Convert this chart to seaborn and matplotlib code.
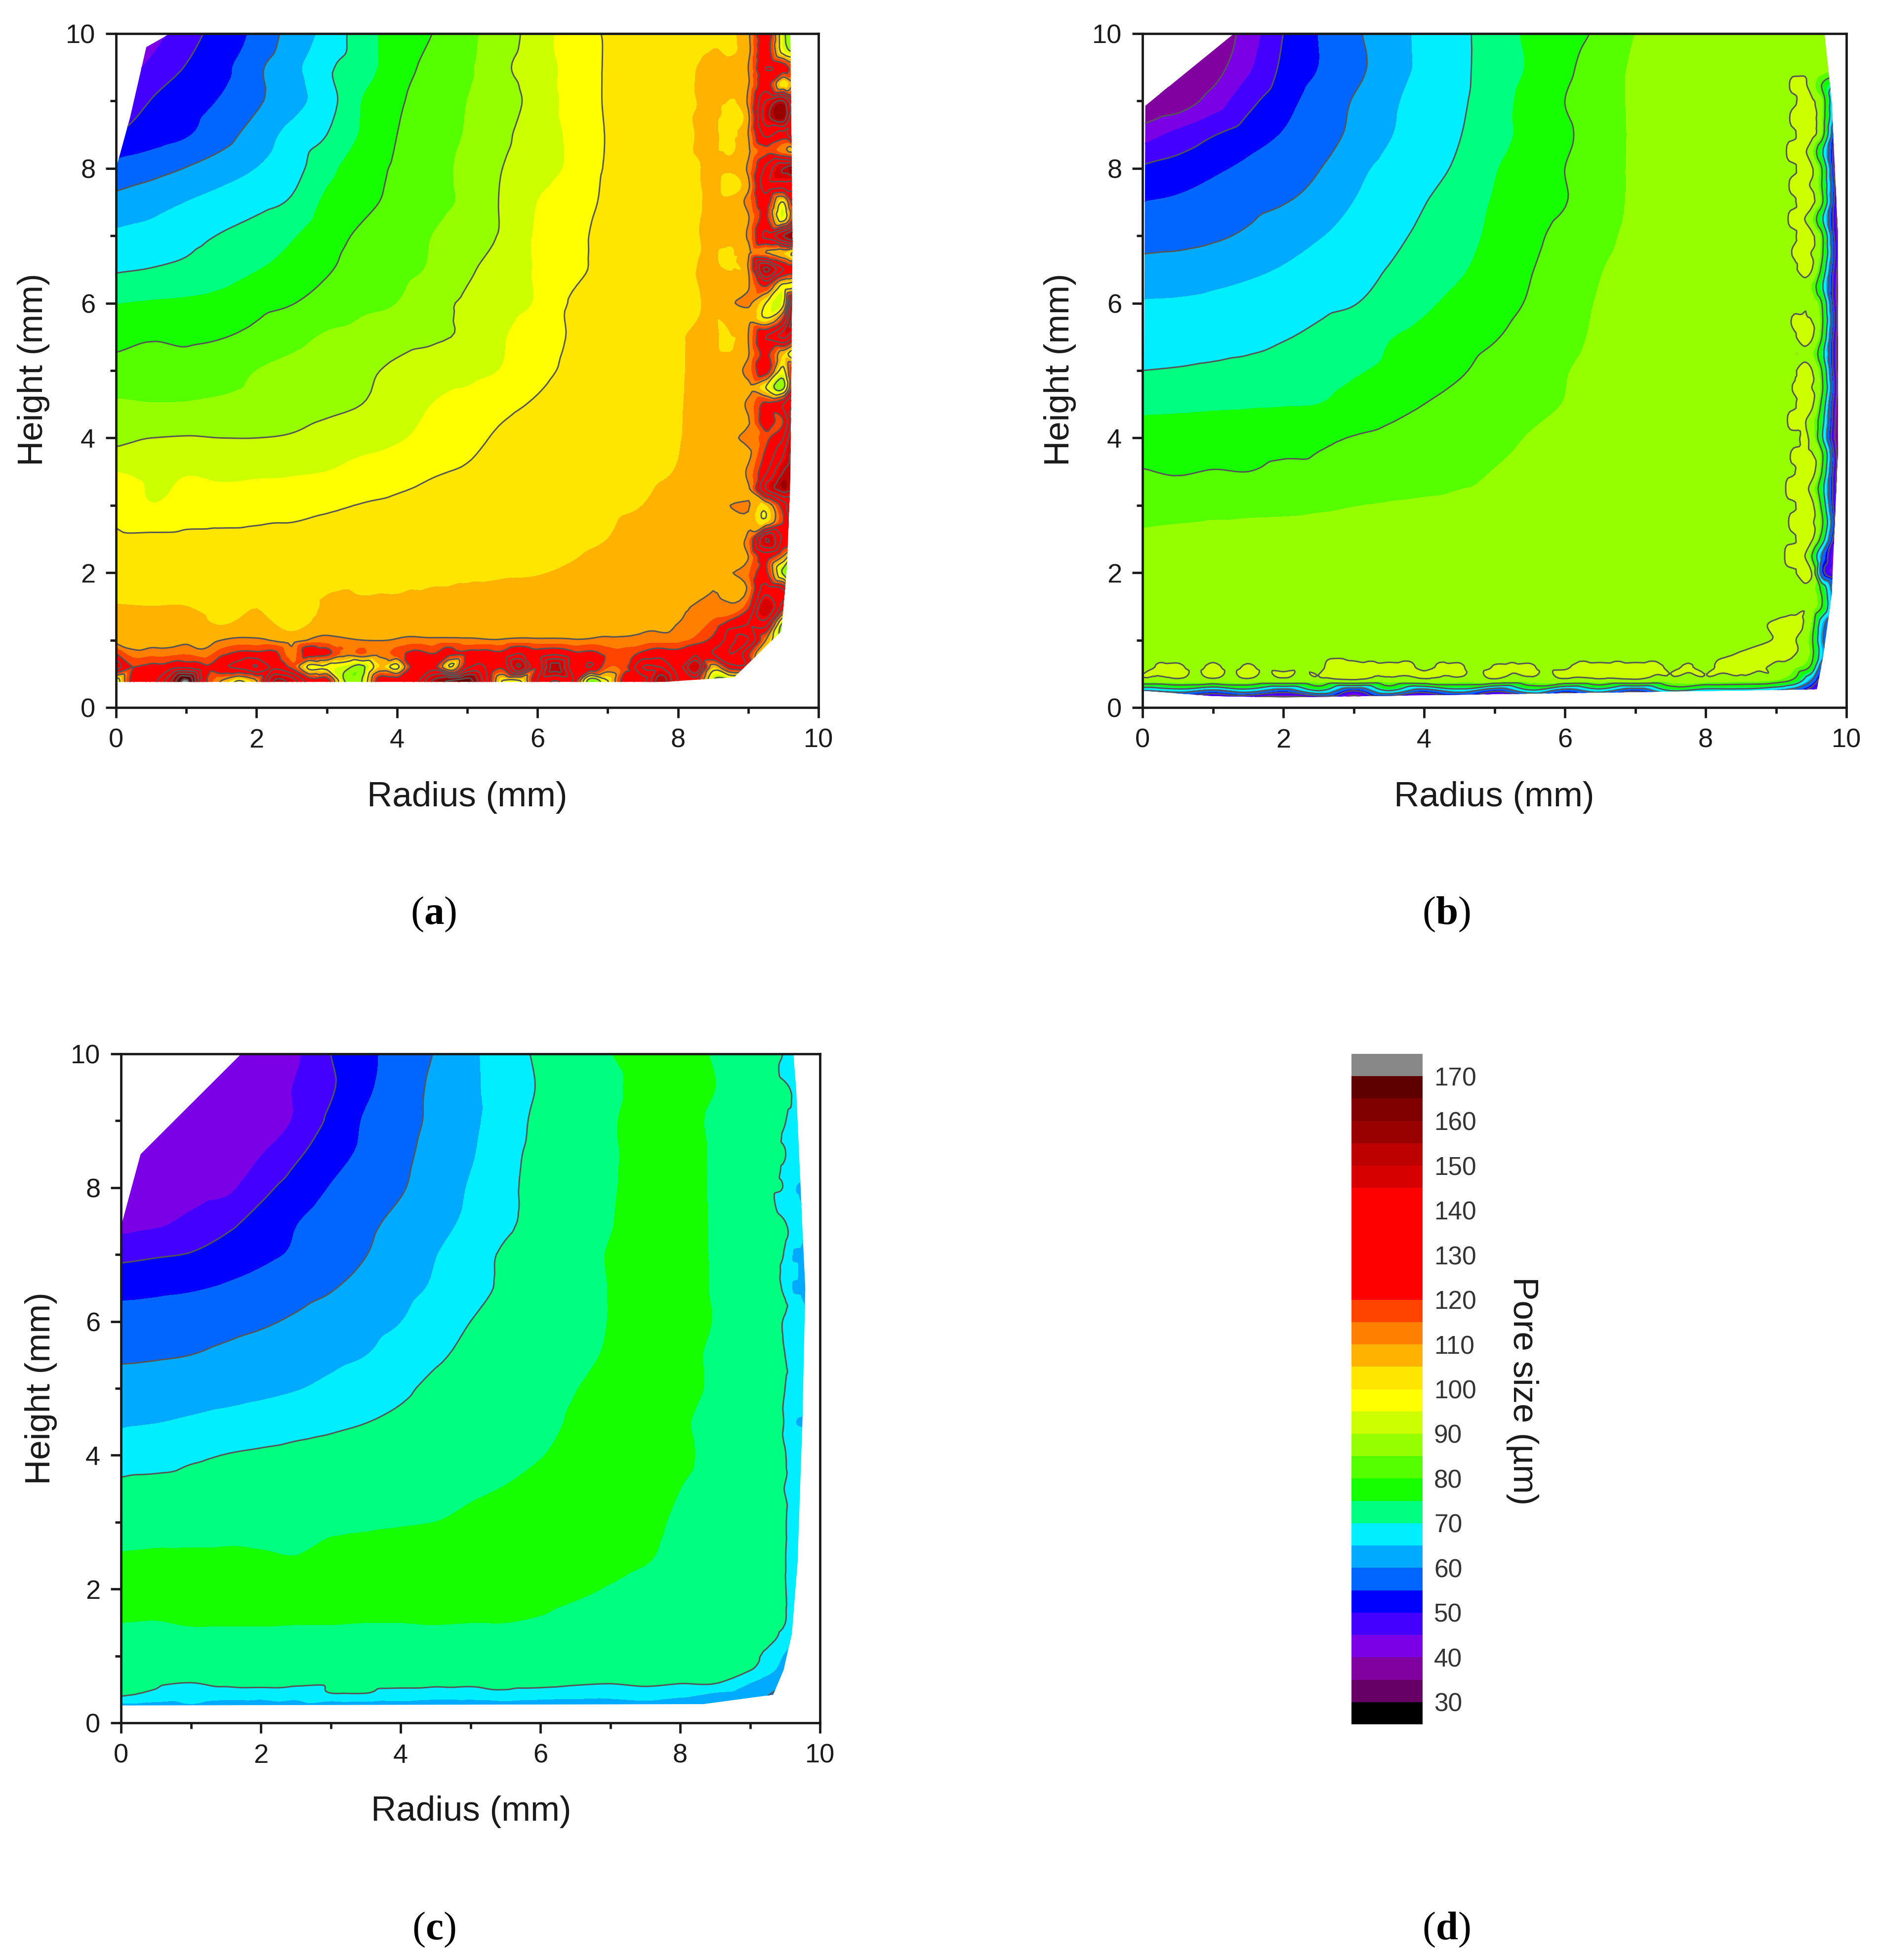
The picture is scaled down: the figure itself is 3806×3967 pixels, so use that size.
import numpy as np
import matplotlib
matplotlib.use("Agg")
import matplotlib.pyplot as plt
from matplotlib.patches import Polygon
from matplotlib.tri import Triangulation, UniformTriRefiner, CubicTriInterpolator
import seaborn as sns

W, H = 3806, 3967

radius = [0, .5, 1, 1.5, 2, 2.5, 3, 3.5, 4, 4.5, 5, 5.5, 6, 6.5, 7, 7.5, 8, 8.5, 9, 9.25, 9.5, 9.65, 9.9]
height = [10, 9.5, 9, 8.5, 8, 7.5, 7, 6.5, 6, 5.5, 5, 4.5, 4, 3.5, 3, 2.5, 2, 1.5, 1.25, 1, .8, .6, .4, .25, .1]

pore_a = [
    [40, 43, 47.5, 52.5, 56, 62, 66.3, 72.7, 77, 80, 83.8, 87.5, 92.5, 97.4, 100.5, 102, 103, 104, 109, 128, 92, 85, 85],
    [42, 46, 50.3, 53.4, 59, 63.3, 69, 72.8, 77.5, 81.7, 84.2, 89, 92.7, 96.5, 100.5, 102, 104, 106, 110, 130, 125, 115, 110],
    [43, 50.2, 52.8, 55.4, 59.2, 63, 67.8, 75, 79.2, 82.2, 85, 87.9, 91.8, 96.7, 100.5, 102, 104, 106, 111, 140, 150, 130, 130],
    [50, 52.5, 54.5, 58, 62.3, 66.5, 70, 75.5, 80, 82.8, 85.4, 89, 92.5, 96, 100.3, 102, 103.8, 105.6, 110, 132, 125, 140, 140],
    [56.6, 58.2, 60.2, 62.5, 65, 68, 73.5, 77.7, 80.7, 83.3, 86.2, 90, 92.8, 96, 100.5, 102.3, 104, 105.7, 111, 132, 150, 158, 158],
    [61.5, 63, 65, 66.8, 68.5, 70.6, 76, 78.7, 81.2, 83.4, 86, 90.5, 95, 98, 100.7, 102.5, 104, 105.7, 112, 125, 100, 125, 125],
    [65.8, 66.7, 68.6, 70.3, 72.2, 74.5, 78, 80.8, 83, 85, 87.8, 90.6, 95.6, 98.8, 101.2, 103, 104, 105.8, 111, 132, 150, 160, 160],
    [69.5, 70.2, 71, 72.5, 74.8, 76.5, 79.5, 82, 83.3, 85.6, 89.2, 92.3, 95.5, 99, 101, 102.5, 104, 105.7, 110, 152, 130, 125, 125],
    [74.8, 75.4, 75.8, 76.7, 78.5, 79.8, 82, 84, 85, 88.5, 90.8, 92.9, 95.5, 100.5, 101.5, 103, 104, 105.7, 111, 100, 98, 150, 150],
    [78.5, 79.6, 79.2, 79.8, 81.3, 83.5, 85.5, 86.5, 88, 89.2, 90.8, 94.5, 98, 100.4, 102, 103.5, 104.6, 105.8, 110, 130, 142, 130, 130],
    [81.7, 81.7, 81.8, 83, 85, 86.2, 87.5, 89, 91, 93, 93.5, 95.3, 98.8, 100.9, 102.5, 103.5, 104.6, 106.8, 112, 125, 98, 125, 125],
    [85.6, 85.2, 85.3, 85.8, 86.5, 87.5, 88.8, 90, 92.5, 95, 96.5, 98.8, 100.5, 102, 103, 103.8, 104.7, 107, 111, 122, 130, 140, 140],
    [88.5, 90, 90.3, 90, 90, 90.5, 92, 93.2, 94.4, 96.5, 98.5, 100.8, 102, 102.8, 103.3, 104, 104.8, 107, 112, 118, 130, 150, 150],
    [94.9, 94, 94.6, 94, 94.2, 94.4, 95, 96.5, 98, 99.5, 100.5, 101.3, 102, 103, 103.6, 104.2, 105.2, 107.5, 111, 128, 150, 155, 155],
    [98.2, 95.2, 96.7, 97, 97.6, 98.4, 99.3, 100.2, 100.9, 101.7, 102.3, 103, 103.4, 104, 104.5, 105, 106.5, 108, 110.5, 104, 125, 145, 145],
    [101, 101, 101.2, 101.3, 101.4, 101.3, 101.6, 102.2, 102.6, 103, 103.3, 103.6, 104, 104.5, 105, 106, 107.2, 108.5, 112, 150, 128, 130, 130],
    [103.2, 103, 103.2, 103.4, 103.5, 103.8, 104, 104.2, 104.4, 104.6, 104.7, 104.8, 104.9, 105.3, 105.9, 106.5, 107, 109, 114, 122, 88, 80, 80],
    [105.2, 105, 105, 103.5, 104.8, 102, 105.5, 105.5, 105.5, 105.7, 105.8, 106, 106.2, 106.5, 106.8, 107.2, 109, 112, 118, 150, 125, 110, 110],
    [107.5, 107, 107, 104.5, 107, 103, 107, 107, 107, 107.3, 107.5, 107.7, 108, 108, 108.5, 109, 110, 116, 130, 135, 88, 85, 85],
    [108, 107.5, 109, 110, 111, 108, 112, 110, 110.5, 111, 111, 110.5, 111, 110.5, 111, 112, 113, 122, 140, 110, 85, 85, 85],
    [120, 113, 114, 118, 122, 112, 122, 115, 117, 120, 122, 122, 124, 122, 118, 122, 123, 130, 122, 95, 85, 85, 85],
    [135, 122, 128, 128, 140, 118, 98, 88, 98, 125, 128, 122, 122, 125, 115, 140, 125, 105, 125, 90, 85, 85, 85],
    [95, 125, 172, 110, 110, 145, 125, 90, 125, 150, 165, 100, 130, 130, 100, 125, 130, 90, 85, 85, 85, 85, 85],
    [95, 125, 172, 110, 110, 145, 125, 90, 125, 150, 165, 100, 130, 130, 100, 125, 130, 90, 85, 85, 85, 85, 85],
    [95, 125, 172, 110, 110, 145, 125, 90, 125, 150, 165, 100, 130, 130, 100, 125, 130, 90, 85, 85, 85, 85, 85],
]

pore_b = [
    [35, 35, 37, 42, 50, 55, 59, 63, 66, 69, 72, 76, 78, 81, 85, 86, 87, 87, 87, 88, 89, 87, 86],
    [35, 35, 38, 44, 51, 55, 58.5, 62.6, 66, 69, 72, 75.5, 79, 82.5, 85.5, 86, 87, 87, 87, 88.5, 89, 88, 85],
    [35, 37, 42, 48.5, 53, 57, 60.3, 64, 66.7, 69.2, 72.7, 76.7, 80, 83, 85.5, 86, 87, 87, 87, 89.5, 91, 85, 50],
    [42.5, 46.3, 49.7, 52.5, 55.3, 58, 61, 64.6, 67.2, 69.8, 73.2, 76.4, 79.2, 82.5, 85.5, 86, 87, 87, 87, 89.5, 92, 84, 38],
    [50.6, 52, 54, 56, 58, 59.8, 63.5, 66.3, 68.3, 70.8, 74.6, 77.4, 80, 83, 85.5, 86, 87, 87, 87, 89.5, 91, 80, 35],
    [55, 55.7, 57, 58.5, 59.8, 61.5, 65, 67.4, 69.8, 72.6, 75.4, 77.6, 79.8, 83.2, 85.5, 86, 87, 87, 87, 89.5, 92, 82, 36],
    [58.2, 58.5, 59.3, 60.7, 62.7, 64.6, 66.7, 68.8, 71, 73.3, 76, 78.8, 81.5, 84, 85.7, 86, 87, 87, 87, 89.5, 91.5, 82, 36],
    [61.6, 62, 63, 64, 65.3, 67, 68.5, 70.2, 72.3, 74.4, 77, 79.7, 82.2, 84.8, 86, 86.5, 87, 87, 87, 89.3, 90.5, 78, 35],
    [65.3, 65.5, 66, 66.7, 67.6, 68.8, 69.8, 71.9, 74.1, 76.3, 78.3, 80.4, 83, 85.3, 86, 86.5, 87, 87, 87, 88, 88, 80, 33],
    [67.6, 68, 68.4, 69, 69.7, 71, 72.8, 74.7, 76.3, 78, 79.7, 81.7, 83.9, 85.5, 86, 86.5, 87, 87, 87, 89.5, 91, 80, 32],
    [70, 70.3, 70.7, 71, 71.9, 73, 74.5, 75.8, 77.9, 79.5, 81.6, 83.2, 84.8, 85.8, 86, 86.5, 87, 87, 87, 89.5, 90.5, 80, 32],
    [73.8, 74, 74.3, 74.5, 74.7, 75, 76.7, 78.4, 80, 81.4, 82.6, 83.8, 85.1, 86, 86, 86.5, 87, 87, 87, 89.5, 91.5, 78, 31],
    [77.2, 77.3, 77.5, 77.9, 78.3, 79.2, 80.2, 81, 81.9, 82.8, 83.8, 85.2, 86, 86, 86.5, 86.5, 87, 87, 87, 89, 88.5, 72, 28],
    [80.3, 79.6, 80.2, 80, 81, 81, 82, 82.5, 83, 84, 85.1, 86, 86, 86, 86.5, 86.5, 87, 87, 87, 89.6, 93, 80, 32],
    [83.4, 83.6, 83.8, 84, 84.2, 84.5, 84.9, 85.2, 85.5, 85.8, 86, 86, 86, 86.5, 86.5, 86.5, 87, 87, 87, 89.5, 92, 78, 33],
    [85.5, 85.7, 86, 86, 86, 86, 86, 86, 86.5, 86.5, 86.5, 86.5, 86.5, 86.5, 86.5, 86.5, 87, 87, 87, 89.5, 91.5, 76, 34],
    [86, 86, 86, 86.5, 86.5, 86.5, 86.5, 86.5, 86.5, 86.5, 86.5, 86.5, 87, 87, 87, 87, 87, 87, 87, 89.3, 90.5, 55, 36],
    [86.5, 86.5, 86.5, 86.5, 86.5, 86.5, 86.5, 87, 87, 87, 87, 87, 87, 87, 87, 87, 87, 87, 87.5, 88.5, 88, 80, 45],
    [87, 87, 87, 87, 87, 87, 87, 87, 87, 87, 87, 87, 87, 87, 87, 87, 87, 88, 90.5, 91, 85, 65, 40],
    [87, 87, 87, 87, 87, 87, 87, 87, 87, 87, 87, 87, 87, 87, 87, 87, 87, 88, 90.2, 90.5, 82, 62, 40],
    [87, 87, 87, 87, 87, 87, 87, 87, 87, 87, 87, 87, 87, 87, 87, 87, 87.5, 90.3, 91.5, 90.5, 83, 65, 40],
    [88, 90.8, 91, 90.6, 88.8, 88.5, 92, 91, 89, 90.8, 90.3, 90.6, 89.5, 91, 91, 89.5, 89, 91, 88.5, 86, 78, 55, 40],
    [87, 88, 87.5, 88, 87, 87.5, 88.5, 87, 87.5, 87, 87.5, 87, 87.5, 88, 88, 87, 87, 86, 84, 78, 60, 45, 40],
    [60, 65, 58, 65, 55, 70, 50, 70, 55, 65, 52, 68, 55, 65, 52, 70, 65, 65, 60, 55, 45, 40, 38],
    [30, 30, 30, 30, 30, 30, 30, 30, 30, 30, 30, 30, 30, 30, 30, 30, 30, 30, 30, 30, 30, 30, 30],
]

pore_c = [
    [42, 42, 42, 42.5, 43, 44.4, 50, 53.7, 57, 60.3, 64, 67.8, 70.8, 72.9, 74.9, 76, 76, 74.7, 73, 72, 69.5, 66, 64],
    [42, 42, 42, 42.5, 43, 45.3, 49.4, 54, 57.7, 61, 64, 67.3, 70.4, 72.3, 74.2, 76.2, 76.5, 75, 73, 71.5, 70.5, 69, 65],
    [42, 42, 42, 42.5, 43, 45.5, 51, 55.5, 58.3, 61, 63.8, 67.8, 71, 72.8, 74.6, 76.2, 76.3, 74.3, 72.5, 71.5, 70.2, 67, 65],
    [42, 42.5, 43, 43.5, 44.8, 49.1, 52.9, 56.1, 58.9, 61.7, 64.4, 68.6, 71.2, 72.9, 74.5, 76.2, 76.2, 74.5, 72.5, 71.2, 70.2, 66, 64],
    [42, 42.5, 43, 43.8, 48.4, 52.2, 55.2, 57.6, 59.6, 62.4, 65.4, 69, 71.3, 73, 74.6, 76.3, 76.3, 74.5, 72.5, 71, 69.5, 65, 62],
    [43, 44, 46.1, 48.7, 51.7, 54.7, 56.8, 59, 61.1, 63.4, 66, 69.2, 71.3, 73, 74.8, 76.5, 76.3, 74.6, 73, 72, 70, 68, 64],
    [48.7, 49.5, 50.3, 52, 53.8, 55.6, 57.8, 59.9, 62.3, 64.8, 68, 70.6, 72.1, 73.6, 75.2, 76.2, 76.5, 74.6, 73, 71.5, 69.5, 63, 60],
    [53.6, 54, 54.5, 55.5, 56.9, 58.3, 59.7, 61.5, 63.5, 65.6, 68.4, 70.7, 72.1, 73.6, 75.1, 76.2, 76.5, 74.6, 73, 71.5, 69, 63, 60],
    [56.7, 57, 57.6, 58.5, 59.4, 60.6, 62, 63.4, 64.9, 67.6, 70, 71.3, 72.5, 73.8, 75.1, 76.2, 76.5, 74.8, 73, 71.5, 69.5, 66, 64],
    [59.3, 59.6, 60, 60.9, 61.8, 62.7, 63.7, 64.9, 67, 69.3, 71, 72.2, 73, 74.2, 75.3, 76, 76, 74.3, 72.5, 71.2, 70, 67, 64],
    [61.9, 62, 62.4, 63, 63.8, 64.7, 66.1, 67.7, 69.2, 71, 72.1, 73.2, 74, 74.9, 76, 76.5, 76, 74.4, 72.5, 71.2, 70, 66, 64],
    [64.4, 64.8, 65.6, 66.5, 67.3, 68.2, 69, 69.9, 70.8, 71.7, 72.6, 73.5, 74.3, 75.3, 76, 76.5, 75.4, 74, 72.5, 71.2, 69.7, 65, 62],
    [67.3, 68.2, 69.3, 70.1, 70.6, 71.1, 71.6, 72.1, 72.6, 73, 73.5, 74, 74.9, 75.6, 76, 76.2, 75.5, 74.2, 72.8, 71.5, 70.2, 67, 64],
    [71.2, 71.3, 71.5, 71.7, 72, 72.5, 73, 73.3, 73.6, 74, 74.6, 75.1, 75.8, 76, 76.2, 76, 75, 74, 72.5, 71.3, 69.9, 68, 65],
    [72.8, 73, 73.2, 73.5, 73.8, 74.2, 74.4, 74.6, 74.8, 75, 75.5, 76, 76.3, 76.5, 76.2, 75.7, 74.5, 73.5, 72.3, 71.3, 70.2, 68, 65],
    [75.2, 75.4, 75.4, 75.4, 75.2, 75, 75.6, 75.8, 76, 76.2, 76.3, 76.4, 76.3, 76.2, 75.9, 75.3, 74, 73, 72, 71, 70.1, 68, 65],
    [76, 76, 76, 76, 76, 76, 76, 76, 76, 76, 76, 76, 75.8, 75.4, 74.8, 74, 73, 72.5, 71.5, 71, 70.2, 67, 64],
    [75, 74.9, 75.2, 75.2, 75.2, 75.1, 75.1, 75, 75, 75.1, 75, 75, 74.6, 74, 73.5, 73, 72.5, 72, 71.5, 71, 70.1, 66, 60],
    [73.8, 74, 74, 74, 74, 74, 74, 74, 74, 74, 73.8, 73.5, 73, 72.8, 72.5, 72.3, 72, 71.7, 71, 70.8, 68, 62, 60],
    [72.5, 72.5, 72.5, 72.5, 72.5, 72.5, 72.5, 72.5, 72.5, 72.4, 72.3, 72.2, 72, 71.8, 71.7, 71.6, 71.5, 71, 70.8, 69, 64, 60, 58],
    [71.8, 71.8, 71.8, 71.8, 71.8, 71.8, 71.8, 71.8, 71.7, 71.5, 71.5, 71.5, 71.3, 71.2, 71.2, 71.1, 71, 70.8, 70.3, 67, 62, 58, 58],
    [71, 70.5, 70, 71, 71, 71, 70.6, 71, 71, 71, 70.7, 71, 71, 70.5, 70.2, 70.7, 70.2, 70.3, 65, 62, 60, 58, 58],
    [70, 68.5, 67, 66.5, 67, 66, 69, 69, 67.5, 66.5, 67, 68, 67, 66.5, 66, 67, 65.5, 63, 61, 60, 58, 58, 58],
    [63, 62, 64, 62, 60, 63, 60, 61, 62, 61, 60, 61, 60, 60, 61, 62, 60, 61, 60, 60, 58, 58, 58],
    [58, 58, 58, 58, 58, 58, 58, 58, 58, 58, 58, 58, 58, 58, 58, 58, 58, 58, 58, 58, 58, 58, 58],
]

# finer readings along the wall, between the rows above
wall_h = [9.75, 9.25, 8.75, 8.25, 7.75, 7.25, 6.75, 6.25, 5.75, 5.25, 4.75, 4.25, 3.75, 3.25, 2.75, 2.25, 1.75]
wall_a_900 = [108.5, 109.5, 108.5, 109, 108.7, 109.5, 108.5, 109.5, 108.7, 109.5, 108.5, 109.5, 108.7, 109, 109, 110, 111]
wall_a_925 = [125, 125, 145, 118, 135, 122, 110, 120, 102, 122, 100, 125, 122, 140, 103, 125, 135]
wall_a_950 = [95, 100, 155, 112, 135, 96, 105, 97, 122, 105, 88, 120, 140, 155, 120, 110, 130]
wall_a_965 = [88, 110, 130, 110, 135, 120, 100, 98, 155, 95, 125, 145, 155, 150, 140, 90, 100]
wall_b_940 = [89, 90.7, 91.5, 91, 91, 90.2, 90.5, 88.5, 90.5, 89, 90.4, 90.6, 90.8, 92, 91.5, 90.6, 88]
wall_b_965 = [86, 80, 85, 72, 80, 72, 82, 72, 82, 74, 82, 74, 82, 74, 82, 60, 78]
wall_c_950 = [69, 71, 69.5, 69.3, 68, 70.5, 69, 70.5, 69.7, 70.4, 69.7, 69.7, 70.3, 70.3, 70.2, 70.1, 70.3]

# finer readings along the base, between the columns above
base_r = [.25, .75, 1.25, 1.75, 2.25, 2.75, 3.25, 3.75, 4.25, 4.75, 5.25, 5.75, 6.25, 6.75, 7.25, 7.75, 8.25, 8.75]
base_a_08 = [112, 113, 112, 122, 122, 124, 113, 112, 122, 122, 123, 130, 128, 122, 117, 125, 128, 140]
base_a_06 = [120, 125, 122, 132, 128, 98, 93, 105, 125, 100, 130, 150, 155, 130, 118, 140, 150, 125]
base_a_04 = [125, 145, 125, 100, 150, 125, 90, 125, 125, 160, 135, 100, 130, 85, 125, 155, 125, 88]
base_b_06 = [90.5, 88.8, 88.8, 88.8, 88.8, 93, 91, 91, 90.6, 88, 90.5, 88.8, 91, 91, 91, 90.3, 91, 91]

# yellow spots in the orange ring of panel a
spot_a_r = [8.68, 8.72, 8.68]
spot_a_h = [8.55, 6.6, 5.45]
spot_a_z = [104.2, 104.2, 104]

# outline of the measured region in each panel
outline_a_x = [0, .2, .43, .77, 9.6, 9.63, 9.6, 9.55, 9.47, 8.8, 7.8, 0]
outline_a_y = [8, 8.76, 9.8, 10, 10, 6.9, 3.4, 2.07, 1.13, .45, .38, .38]
outline_b_x = [.04, 1.3, 9.69, 9.79, 9.88, 9.88, 9.79, 9.67, 9.58, 2, 1, 0]
outline_b_y = [8.93, 10, 10, 9, 7, 3.8, 1.67, .76, .27, .15, .17, .25]
outline_c_x = [0, .28, 1.72, 9.62, 9.66, 9.76, 9.79, 9.75, 9.68, 9.6, 9.48, 9.33, 8.33, 0]
outline_c_y = [7.42, 8.5, 10, 10, 9.47, 7.14, 6.5, 4.53, 2.4, 1.35, .79, .42, .28, .26]

band_edges = list(range(25, 180, 5))
band_colors = ["#000000", "#660066", "#8000a0", "#7b00e6", "#4400ff", "#0000ff", "#0066ff", "#00aaff",
               "#00eeff", "#00ff80", "#15ff00", "#55ff00", "#95ff00", "#ccff00", "#ffff00", "#ffe600",
               "#ffb300", "#ff8000", "#ff4400", "#ff0000", "#ff0000", "#ff0000", "#ff0000", "#ff0000",
               "#d60000", "#bd0000", "#990000", "#800000", "#5e0000", "#888888"]
line_levels = list(range(30, 180, 10))
bar_labels = ["170", "160", "150", "140", "130", "120", "110", "100", "90", "80", "70", "60", "50", "40", "30"]

sns.set_theme(style="ticks")
plt.rcParams["font.family"] = ["Liberation Sans", "DejaVu Sans"]
plt.rcParams["mathtext.fontset"] = "custom"
plt.rcParams["mathtext.bf"] = "Liberation Serif:bold"
plt.rcParams["mathtext.rm"] = "Liberation Serif"

palette = sns.color_palette(band_colors)
DARK = "#1a1a1a"
TICK_FS, LABEL_FS = 13, 17


def frac_box(l, t, r, b):
    return [l / W, 1 - b / H, (r - l) / W, (b - t) / H]


def collect_points(pore, extras):
    rr, hh = np.meshgrid(radius, height)
    px = list(rr.ravel())
    py = list(hh.ravel())
    pz = list(np.array(pore, dtype=float).ravel())
    for ex_r, ex_h, ex_z in extras:
        px += list(ex_r)
        py += list(ex_h)
        pz += list(ex_z)
    return np.array(px), np.array(py), np.array(pz)


def draw_panel(box, pore, extras, out_x, out_y, xlab_xy, ylab_xy):
    ax = fig.add_axes(frac_box(*box))
    px, py, pz = collect_points(pore, extras)
    tri = Triangulation(px, py)
    # rounder iso lines than straight pieces between the readings
    interp = CubicTriInterpolator(tri, pz, kind="geom")
    fine_tri, fine_z = UniformTriRefiner(tri).refine_field(pz, triinterpolator=interp, subdiv=3)
    fine_z = np.clip(fine_z, 25.5, 174.5)
    fill = ax.tricontourf(fine_tri, fine_z, levels=band_edges, colors=palette)
    fill.set_edgecolor("face")
    fill.set_linewidth(0.3)
    lines = ax.tricontour(fine_tri, fine_z, levels=line_levels, colors="#555555", linewidths=0.7)
    hull = Polygon(np.column_stack([out_x, out_y]), closed=True, transform=ax.transData)
    fill.set_clip_path(hull)
    lines.set_clip_path(hull)

    ax.set_xlim(0, 10)
    ax.set_ylim(0, 10)
    ax.set_xticks([0, 2, 4, 6, 8, 10])
    ax.set_yticks([0, 2, 4, 6, 8, 10])
    ax.set_xticks([1, 3, 5, 7, 9], minor=True)
    ax.set_yticks([1, 3, 5, 7, 9], minor=True)
    ax.tick_params(which="major", length=5, width=1.15, labelsize=TICK_FS, color=DARK, labelcolor=DARK, pad=5)
    ax.tick_params(which="minor", length=2.8, width=1.15, color=DARK)
    for s in ax.spines.values():
        s.set_linewidth(1.15)
        s.set_color(DARK)
    fig.text(xlab_xy[0] / W, 1 - xlab_xy[1] / H, "Radius (mm)", ha="center", va="center",
             fontsize=LABEL_FS, color=DARK)
    fig.text(ylab_xy[0] / W, 1 - ylab_xy[1] / H, "Height (mm)", ha="center", va="center",
             rotation=90, fontsize=LABEL_FS, color=DARK)
    return ax


fig = plt.figure(figsize=(W / 300, H / 300), dpi=300, facecolor="white")

extras_a = [
    ([9] * 17, wall_h, wall_a_900),
    ([9.25] * 17, wall_h, wall_a_925),
    ([9.5] * 17, wall_h, wall_a_950),
    ([9.65] * 17, wall_h, wall_a_965),
    (base_r, [.8] * 18, base_a_08),
    (base_r, [.6] * 18, base_a_06),
    (base_r, [.4] * 18, base_a_04),
    (spot_a_r, spot_a_h, spot_a_z),
]
extras_b = [
    ([9.4] * 17, wall_h, wall_b_940),
    ([9.65] * 17, wall_h, wall_b_965),
    (base_r, [.6] * 18, base_b_06),
]
extras_c = [
    ([9.5] * 17, wall_h, wall_c_950),
]

draw_panel((235, 68, 1657, 1432), pore_a, extras_a, outline_a_x, outline_a_y, (946, 1614), (68, 748))
draw_panel((2313, 68, 3738, 1432), pore_b, extras_b, outline_b_x, outline_b_y, (3025, 1614), (2146, 748))
draw_panel((245, 2133, 1660, 3487), pore_c, extras_c, outline_c_x, outline_c_y, (954, 3667), (83, 2810))

# colour scale drawn as a one column heatmap, top band is the highest
cax = fig.add_axes(frac_box(2736, 2133, 2880, 3490))
mids = (np.array(band_edges[:-1]) + np.array(band_edges[1:])) / 2
cmap = matplotlib.colors.ListedColormap(band_colors)
sns.heatmap(mids[::-1].reshape(-1, 1), ax=cax, cmap=cmap, vmin=25, vmax=175, cbar=False,
            xticklabels=False, yticklabels=False)
cax.yaxis.tick_right()
cax.set_yticks(np.arange(1, 30, 2))
cax.set_yticklabels(bar_labels, rotation=0, fontsize=TICK_FS * 0.95, color="#333333")
cax.tick_params(axis="y", length=0, pad=5.5, labelright=True, labelleft=False)
fig.text(3082 / W, 1 - 2815 / H, "Pore size (µm)", rotation=270, ha="center", va="center",
         fontsize=LABEL_FS, color=DARK)

for lab, x, y in [("a", 878, 1851), ("b", 2928, 1851), ("c", 878, 3906), ("d", 2928, 3906)]:
    fig.text(x / W, 1 - y / H, "(" + r"$\mathbf{" + lab + "}$" + ")", ha="center", va="center",
             family="Liberation Serif", fontsize=19.5, color="black")

fig.savefig("out.png", dpi=300)
